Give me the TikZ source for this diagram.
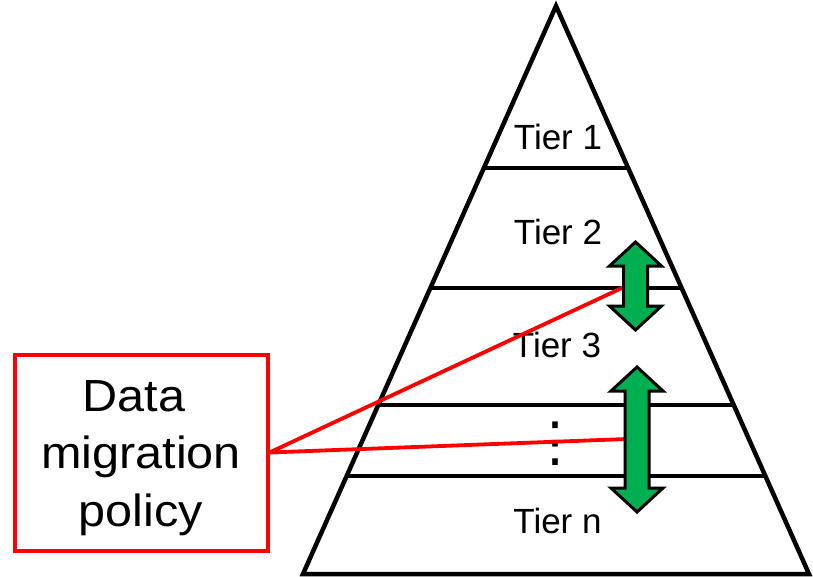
\documentclass[tikz,border=0pt]{standalone}
\usepackage{fontspec}
\setmainfont{Liberation Sans}
\newfontfamily\symfont{DejaVu Sans}
\definecolor{migred}{HTML}{FF0000}
\definecolor{miggreen}{HTML}{00B050}
\newcommand{\migarrow}[4]{% name, cx, top, bottom
  \draw[greenarrow] (#2,#3) -- ({#2+26},{#3+24}) -- ({#2+12},{#3+24}) -- ({#2+12},{#4-24})
    -- ({#2+26},{#4-24}) -- (#2,#4) -- ({#2-26},{#4-24}) -- ({#2-12},{#4-24})
    -- ({#2-12},{#3+24}) -- ({#2-26},{#3+24}) -- cycle;
  \coordinate (#1) at ({#2-12},{(#3+#4)/2});
}
\begin{document}
\begin{tikzpicture}[x=1pt,y=-1pt,
  blackline/.style={draw=black, line width=4.5pt},
  redline/.style={draw=migred, line width=3.8pt},
  greenarrow/.style={draw=black, line width=3pt, fill=miggreen, line join=miter},
  policybox/.style={draw=migred, line width=4pt, fill=white, minimum width=253pt, minimum height=196pt, inner sep=0pt},
  tiertext/.style={font=\fontsize{35}{42}\selectfont, inner sep=0pt, anchor=base},
  dottext/.style={font=\symfont\fontsize{54}{54}\selectfont, inner sep=0pt},
  policytext/.style={font=\fontsize{45}{57.5}\selectfont, align=center, inner sep=0pt, xscale=1.08, transform shape}
]
\useasboundingbox (0,0) rectangle (813,577);
% pyramid
\coordinate (apex) at (556,6);
\coordinate (bl) at (303,574);
\coordinate (br) at (809,574);
\draw[blackline, line join=miter] (apex) -- (bl) -- (br) -- cycle;
\draw[blackline] (483,168) -- (629,168);
\draw[blackline] (430,288) -- (682,288);
\draw[blackline] (378,405) -- (734,405);
\draw[blackline] (347,476) -- (765,476);
% tier labels
\node[tiertext] (t1) at (558,150) {Tier 1};
\node[tiertext] (t2) at (558,244) {Tier 2};
\node[tiertext] (t3) at (557,357) {Tier 3};
\node[tiertext] (tn) at (557.5,533) {Tier n};
\node[dottext] (dots) at (555,444) {⋮};
% policy box
\node[policybox] (policy) at (141,452.5) {};
\node[policytext] (policylabel) at (141,458) {Data\hspace*{0.3em}\\migration\hspace*{0.3em}\\policy};
% red connectors
\coordinate (e1) at (624,287);
\coordinate (e2) at (627,439);
\draw[redline] (policy.east) -- (e1);
\draw[redline] (policy.east) -- (e2);
% green arrows
\migarrow{a1}{635.5}{242}{330}
\migarrow{a2}{637}{367}{512}
\end{tikzpicture}
\end{document}
